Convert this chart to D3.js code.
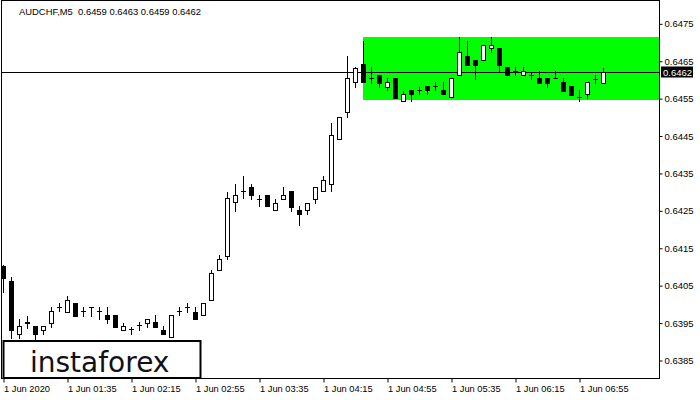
<!DOCTYPE html>
<html><head><meta charset="utf-8">
<script src="https://cdn.jsdelivr.net/npm/d3@7"></script>
<style>body{margin:0;background:#fff}svg{display:block}</style>
</head><body>
<svg id="c" width="700" height="400"></svg>
<script>
const titleText = "AUDCHF,M5  0.6459 0.6463 0.6459 0.6462";
const xTickLabels = ["1 Jun 2020","1 Jun 01:35","1 Jun 02:15","1 Jun 02:55","1 Jun 03:35","1 Jun 04:15","1 Jun 04:55","1 Jun 05:35","1 Jun 06:15","1 Jun 06:55"];
const yTickValues = [0.6385,0.6395,0.6405,0.6415,0.6425,0.6435,0.6445,0.6455,0.6465,0.6475];
const opens = [0.64101,0.64061,0.63919,0.63950,0.63941,0.63929,0.63950,0.63991,0.63979,0.64002,
0.63981,0.63991,0.63981,0.63970,0.63970,0.63929,0.63932,0.63943,0.63950,0.63952,
0.63930,0.63911,0.63982,0.63992,0.63979,0.63970,0.64010,0.64091,0.64129,0.64272,
0.64302,0.64312,0.64281,0.64290,0.64251,0.64281,0.64301,0.64251,0.64251,0.64281,
0.64301,0.64320,0.64440,0.64512,0.64592,0.64641,0.64603,0.64611,0.64580,0.64603,
0.64542,0.64571,0.64571,0.64582,0.64582,0.64571,0.64552,0.64611,0.64663,0.64652,
0.64651,0.64683,0.64684,0.64632,0.64622,0.64611,0.64611,0.64603,0.64603,0.64603,
0.64593,0.64582,0.64552,0.64560,0.64602,0.64590];
const highs = [0.64103,0.64071,0.63959,0.63968,0.63942,0.63942,0.63991,0.64002,0.64021,0.64003,
0.63991,0.63991,0.63991,0.63991,0.63970,0.63950,0.63939,0.63952,0.63959,0.63970,
0.63941,0.63970,0.63992,0.64003,0.63992,0.64002,0.64091,0.64131,0.64300,0.64320,
0.64342,0.64320,0.64290,0.64291,0.64281,0.64312,0.64302,0.64262,0.64270,0.64312,
0.64342,0.64483,0.64500,0.64663,0.64632,0.64702,0.64632,0.64612,0.64603,0.64603,
0.64570,0.64572,0.64580,0.64583,0.64592,0.64592,0.64603,0.64714,0.64703,0.64653,
0.64692,0.64714,0.64685,0.64632,0.64632,0.64632,0.64620,0.64622,0.64604,0.64622,
0.64603,0.64582,0.64571,0.64592,0.64611,0.64630];
const lows = [0.64033,0.63910,0.63910,0.63936,0.63903,0.63919,0.63939,0.63981,0.63979,0.63968,
0.63968,0.63968,0.63960,0.63950,0.63939,0.63929,0.63919,0.63930,0.63939,0.63939,
0.63919,0.63911,0.63970,0.63979,0.63959,0.63970,0.64010,0.64091,0.64119,0.64249,
0.64282,0.64281,0.64262,0.64262,0.64251,0.64281,0.64249,0.64210,0.64239,0.64270,
0.64301,0.64301,0.64440,0.64500,0.64580,0.64592,0.64591,0.64580,0.64572,0.64551,
0.64542,0.64542,0.64561,0.64561,0.64571,0.64560,0.64552,0.64611,0.64639,0.64602,
0.64651,0.64672,0.64623,0.64611,0.64611,0.64611,0.64602,0.64591,0.64580,0.64603,
0.64570,0.64559,0.64542,0.64550,0.64591,0.64590];
const closes = [0.64070,0.63929,0.63941,0.63951,0.63919,0.63941,0.63981,0.63991,0.64010,0.63968,
0.63981,0.63991,0.63981,0.63959,0.63939,0.63941,0.63932,0.63943,0.63959,0.63939,
0.63919,0.63970,0.63982,0.63992,0.63959,0.64002,0.64082,0.64119,0.64282,0.64291,
0.64302,0.64290,0.64281,0.64262,0.64270,0.64290,0.64260,0.64239,0.64270,0.64312,
0.64331,0.64451,0.64500,0.64603,0.64631,0.64592,0.64603,0.64591,0.64592,0.64551,
0.64561,0.64560,0.64571,0.64571,0.64582,0.64560,0.64603,0.64672,0.64639,0.64639,
0.64692,0.64692,0.64639,0.64611,0.64622,0.64622,0.64611,0.64591,0.64591,0.64603,
0.64570,0.64559,0.64552,0.64592,0.64602,0.64620];
const currentPrice = 0.6462;
const zoneTop = 0.64713, zoneBottom = 0.64544, zoneStartBar = 45;
const xTickEvery = 8;

const svg = d3.select("#c");
const PL = 1, PR = 659, PT = 0, PB = 378;
const n = opens.length;
const x = d3.scaleLinear().domain([0, n - 1]).range([3, 3 + 8 * (n - 1)]);
const y = d3.scaleLinear().domain([0.6385, 0.6475]).range([360, 23.3]);
const font = "'Liberation Sans', Arial, sans-serif";

const defs = svg.append("defs");
defs.append("clipPath").attr("id", "plot").append("rect")
  .attr("x", PL).attr("y", PT).attr("width", PR - PL).attr("height", PB - PT);
const plot = svg.append("g").attr("clip-path", "url(#plot)");

// green zone
plot.append("rect")
  .attr("x", Math.round(x(zoneStartBar)))
  .attr("y", Math.round(y(zoneTop)))
  .attr("width", PR - Math.round(x(zoneStartBar)))
  .attr("height", Math.round(y(zoneBottom)) - Math.round(y(zoneTop)))
  .attr("fill", "#00ff00");

// current price line
const yc = Math.round(y(currentPrice)) + 0.5;
plot.append("line").attr("x1", 0).attr("x2", PR).attr("y1", yc).attr("y2", yc)
  .attr("stroke", "#000").attr("stroke-width", 1);

// candles
const idx = d3.range(n);
const cg = plot.append("g");
idx.forEach(i => {
  const cx = Math.round(x(i)) + 0.5;
  const o = opens[i], h = highs[i], l = lows[i], c = closes[i];
  cg.append("line").attr("x1", cx).attr("x2", cx)
    .attr("y1", Math.round(y(h))).attr("y2", Math.round(y(l)) + 1)
    .attr("stroke", "#000").attr("stroke-width", 1);
  const top = Math.round(y(Math.max(o, c)));
  const bot = Math.round(y(Math.min(o, c)));
  if (bot - top < 1) {
    cg.append("line").attr("x1", cx - 2.5).attr("x2", cx + 2.5)
      .attr("y1", top + 0.5).attr("y2", top + 0.5).attr("stroke", "#000");
  } else if (c > o) {
    cg.append("rect").attr("x", cx - 2).attr("y", top + 0.5)
      .attr("width", 4).attr("height", bot - top)
      .attr("fill", "#fff").attr("stroke", "#000").attr("stroke-width", 1);
  } else {
    cg.append("rect").attr("x", cx - 2.5).attr("y", top)
      .attr("width", 5).attr("height", bot - top + 1)
      .attr("fill", "#000");
  }
});

// frame
svg.append("rect").attr("x", PL + 0.5).attr("y", PT + 0.5)
  .attr("width", PR - PL).attr("height", PB - PT)
  .attr("fill", "none").attr("stroke", "#000");

// y axis
const yAxis = d3.axisRight(y).tickValues(yTickValues).tickSize(3).tickPadding(2)
  .tickFormat(d3.format(".4f"));
const ya = svg.append("g").attr("transform", `translate(${PR + 0.5},0.5)`).call(yAxis);
ya.select(".domain").remove();
ya.selectAll(".tick line").attr("stroke", "#000");
ya.selectAll(".tick text").attr("font-family", font).attr("font-size", "9.5px").attr("fill", "#000");

// x axis
const xTickIdx = xTickLabels.map((_, k) => k * xTickEvery);
const xAxis = d3.axisBottom(x).tickValues(xTickIdx).tickSize(4).tickPadding(3)
  .tickFormat((d, k) => xTickLabels[k]);
const xa = svg.append("g").attr("transform", `translate(0.5,${PB + 0.5})`).call(xAxis);
xa.select(".domain").remove();
xa.selectAll(".tick line").attr("stroke", "#000");
xa.selectAll(".tick text").attr("font-family", font).attr("font-size", "9.3px")
  .attr("fill", "#000").attr("text-anchor", "start").attr("x", 0).attr("dy", "0.71em");

// current price label
svg.append("rect").attr("x", 661).attr("y", yc - 6).attr("width", 32).attr("height", 11).attr("fill", "#000");
svg.append("text").attr("x", 663).attr("y", yc + 3.5).text(d3.format(".4f")(currentPrice))
  .attr("font-family", font).attr("font-size", "9.5px").attr("fill", "#fff");

// title
svg.append("text").attr("x", 19).attr("y", 15).text(titleText)
  .attr("xml:space", "preserve").style("white-space", "pre")
  .attr("textLength", 182).attr("lengthAdjust", "spacingAndGlyphs")
  .attr("font-family", font).attr("font-size", "9.6px").attr("fill", "#000");

// logo
svg.append("rect").attr("x", 3.5).attr("y", 341).attr("width", 197).attr("height", 37)
  .attr("fill", "#fff").attr("stroke", "#000").attr("stroke-width", 2);
svg.append("text").attr("x", 30).attr("y", 372).text("instaforex")
  .attr("font-family", "'DejaVu Sans', sans-serif").attr("font-size", "28px").attr("fill", "#111");
</script>
</body></html>
